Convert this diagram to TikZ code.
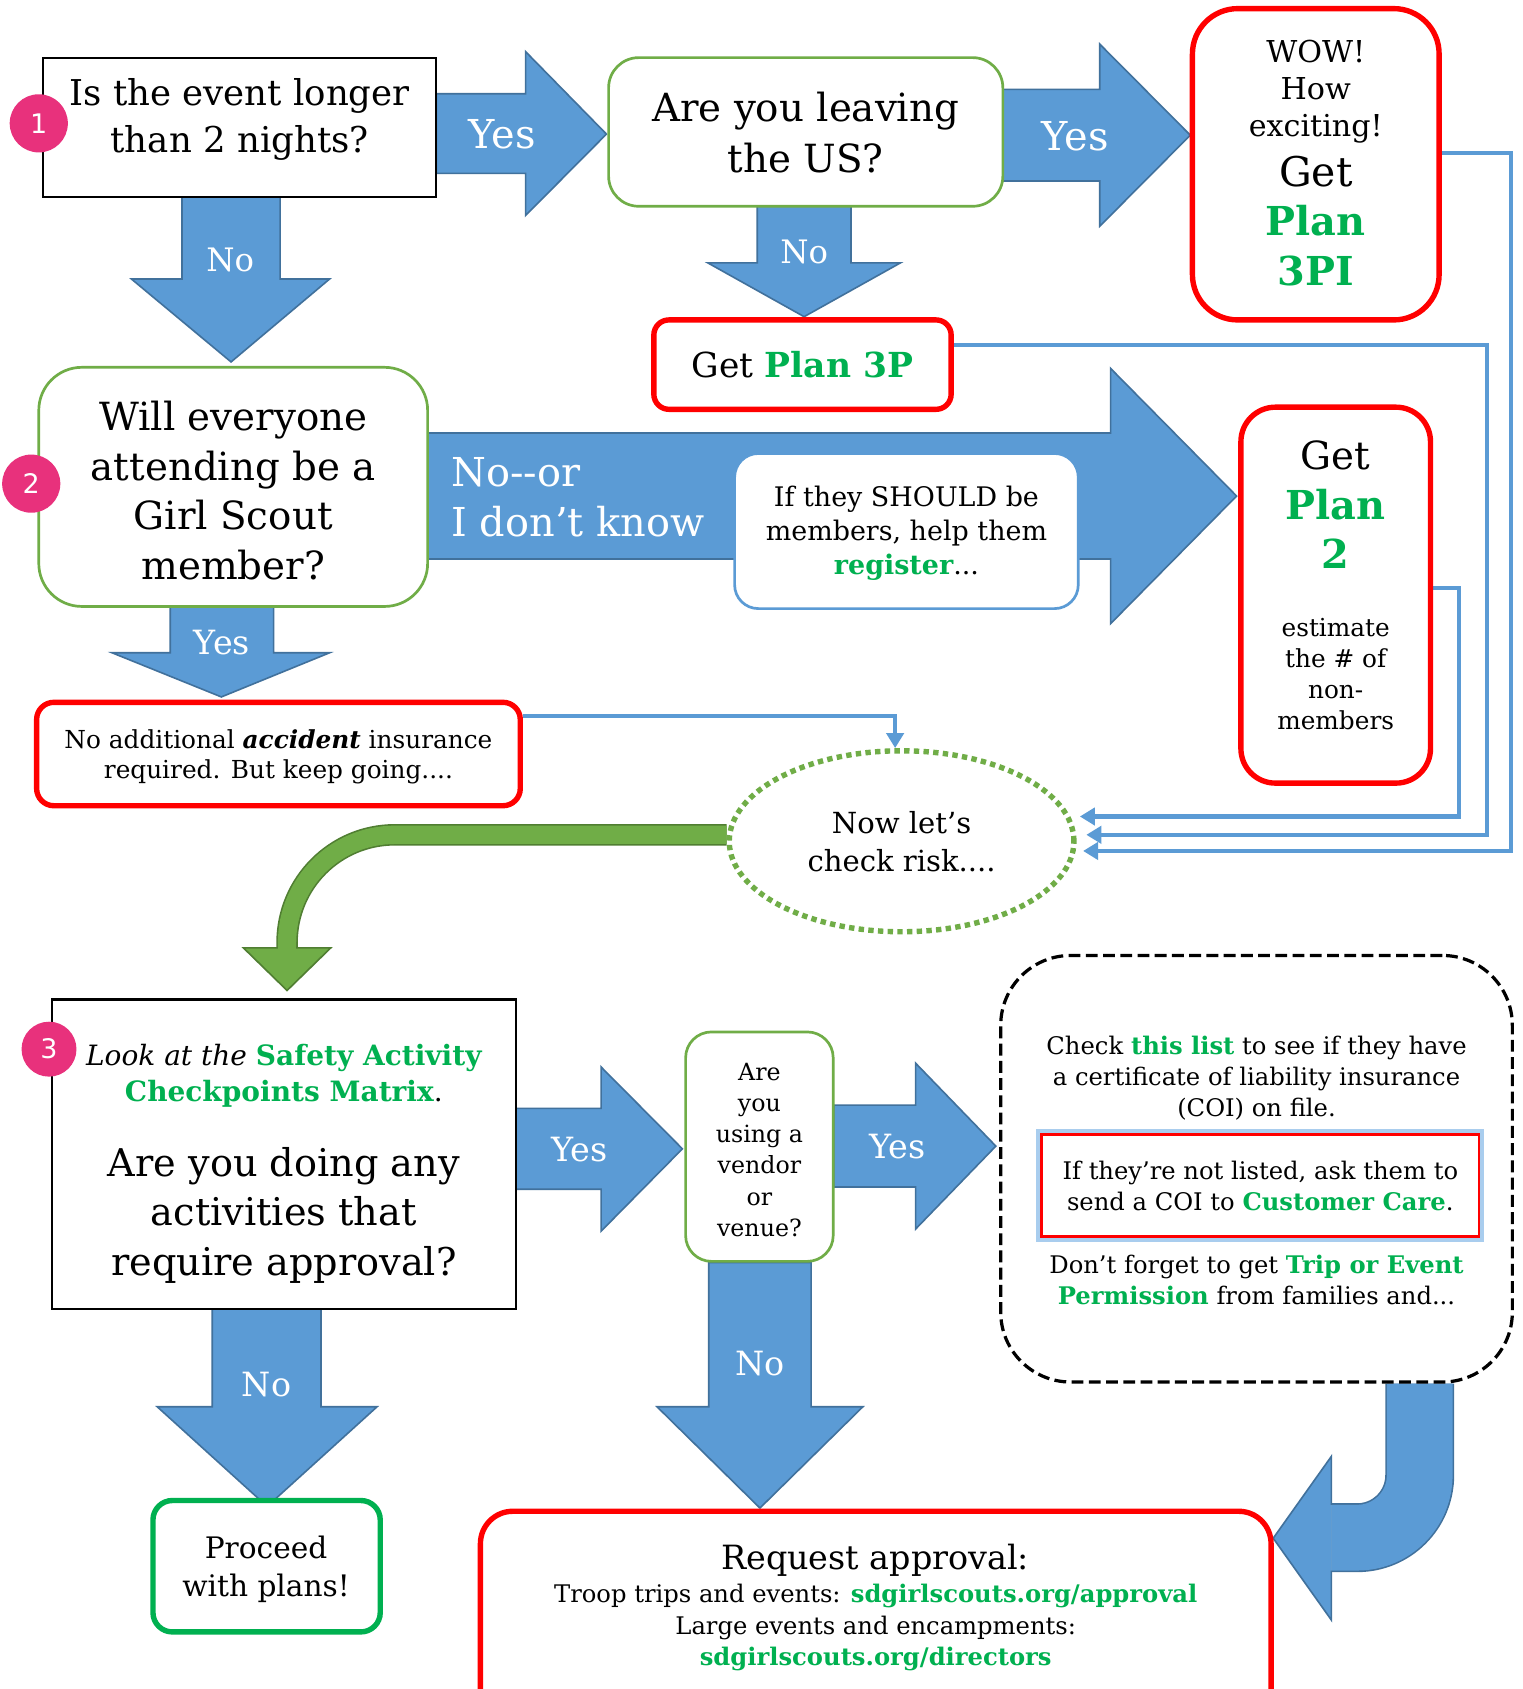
\documentclass[tikz,border=0pt]{standalone}
\usepackage{fontspec}
\setmainfont{DejaVu Serif}
\newfontfamily\numfont{DejaVu Sans}
\usetikzlibrary{arrows.meta,shapes.geometric,backgrounds}
\definecolor{ablue}{HTML}{5B9BD5}
\definecolor{aedge}{HTML}{41719C}
\definecolor{bred}{HTML}{FF0000}
\definecolor{bgreen}{HTML}{70AD47}
\definecolor{gedge}{HTML}{507E32}
\definecolor{tgreen}{HTML}{00B050}
\definecolor{npink}{HTML}{E8317C}
\definecolor{glowblue}{HTML}{A9CDEE}
\newcommand\fsz[2]{\fontsize{#1}{#2}\selectfont}
\newcommand\gb[1]{\textbf{\textcolor{tgreen}{#1}}}
\tikzset{
  blk/.style={fill=ablue, draw=aedge, line width=1.5pt, line join=miter},
  lbl/.style={text=white, inner sep=0pt, anchor=base},
  txt/.style={align=center, inner sep=0pt, anchor=north},
  one/.style={inner sep=0pt, anchor=base},
  shp/.style={rectangle, inner sep=0pt},
  redbox/.style={shp, draw=bred, line width=5pt, fill=white, rounded corners=#1},
  grnbox/.style={shp, draw=bgreen, line width=2.5pt, fill=white, rounded corners=#1},
  blkbox/.style={shp, draw=black, line width=2.2pt, fill=white},
  conn/.style={draw=ablue, line width=4pt, -{Triangle[length=14pt,width=16pt]}},
  numc/.style={circle, fill=npink, text=white, inner sep=0pt, minimum size=#1, font=\numfont\fsz{25}{25}},
}
\begin{document}
\begin{tikzpicture}[x=1pt,y=-1pt]
\useasboundingbox (0,0) rectangle (1413,1568);
\clip (0,0) rectangle (1413,1568);

% ---------- boxes ----------
\node[blkbox, minimum width=365pt, minimum height=129pt] (q1) at (222.5,118.5) {};
\node[grnbox=28pt, minimum width=366pt, minimum height=138pt] (q2) at (748,122.5) {};
\node[redbox=42pt, minimum width=229pt, minimum height=289pt] (wow) at (1221.5,152.5) {};
\node[redbox=14pt, minimum width=276pt, minimum height=83pt] (p3p) at (745,338.5) {};
\node[grnbox=40pt, minimum width=361pt, minimum height=222pt] (q3) at (216.5,452) {};
\node[shp, draw=ablue, line width=2.5pt, fill=white, rounded corners=22pt, minimum width=319pt, minimum height=144pt] (reg) at (841.5,493) {};
\node[redbox=32pt, minimum width=176pt, minimum height=349pt] (p2) at (1240,552.5) {};
\node[redbox=16pt, minimum width=449pt, minimum height=96pt] (noadd) at (258.5,700) {};
\node[ellipse, draw=bgreen, line width=5pt, dash pattern=on 5pt off 4pt, fill=white, minimum width=320pt, minimum height=168pt, inner sep=0pt] (risk) at (837,781) {};
\node[blkbox, minimum width=431pt, minimum height=287pt] (q4) at (263.5,1071.5) {};
\node[grnbox=24pt, minimum width=137pt, minimum height=213pt] (vend) at (705,1064.5) {};
\node[shp, draw=black, line width=3pt, dash pattern=on 11pt off 5pt, rounded corners=65pt, fill=white, minimum width=475pt, minimum height=396pt] (coi) at (1166.5,1085) {};
\node[shp, draw=bred, line width=2.5pt, fill=white, preaction={draw=glowblue, line width=10pt}, minimum width=406pt, minimum height=95pt] (nl) at (1170,1100.5) {};
\node[shp, draw=tgreen, line width=5pt, fill=white, rounded corners=18pt, minimum width=211pt, minimum height=122pt] (proc) at (247.5,1454) {};
\node[redbox=30pt, minimum width=734pt, minimum height=217pt] (req) at (813,1511.5) {};

% ---------- number badges ----------
\node[numc=54pt] (num1) at (36,114.5) {1};
\node[numc=54pt] (num2) at (29,449) {2};
\node[numc=51pt] (num3) at (45.5,974) {3};

% ---------- arrows (behind) ----------
\begin{scope}[on background layer]
\fill[white] (0,0) rectangle (1413,1568);
% block arrows
\draw[blk] (405,87) -- (488,87) -- (488,48) -- (563,124.5) -- (488,200) -- (488,161) -- (405,161) -- cycle;
\draw[blk] (931,83) -- (1021,83) -- (1021,41) -- (1105,125.5) -- (1021,210) -- (1021,168) -- (931,168) -- cycle;
\draw[blk] (169,183) -- (260,183) -- (260,259) -- (306,259) -- (214.5,336) -- (122,259) -- (169,259) -- cycle;
\draw[blk] (703,191) -- (790,191) -- (790,244) -- (836,244) -- (746.5,294) -- (657,244) -- (703,244) -- cycle;
\draw[blk] (397,402) -- (1031,402) -- (1031,342) -- (1148,460.5) -- (1031,579) -- (1031,519) -- (397,519) -- cycle;
\draw[blk] (158,563) -- (254,563) -- (254,606) -- (306,606) -- (205.5,647) -- (104,606) -- (158,606) -- cycle;
\draw[blk] (479,1029) -- (558,1029) -- (558,990.5) -- (633.5,1066.5) -- (558,1143) -- (558,1104) -- (479,1104) -- cycle;
\draw[blk] (774,1026) -- (850,1026) -- (850,987) -- (924.5,1064) -- (850,1141) -- (850,1102) -- (774,1102) -- cycle;
\draw[blk] (197,1215) -- (298,1215) -- (298,1306) -- (350,1306) -- (248,1398.5) -- (146,1306) -- (197,1306) -- cycle;
\draw[blk] (658,1172) -- (753,1172) -- (753,1306) -- (801,1306) -- (705.5,1400) -- (610,1306) -- (658,1306) -- cycle;
% green curved arrow from risk ellipse to question 3
\draw[line width=20pt, gedge, rounded corners=100pt] ([yshift=6pt]risk.west) -- (266.5,775) -- (266.5,881);
\draw[line width=17pt, bgreen, rounded corners=100pt] ([yshift=6pt]risk.west) -- (266.5,775) -- (266.5,881);
\filldraw[fill=bgreen, draw=gedge, line width=1.5pt, line join=miter] (258,880) -- (226,880) -- (266.5,919.5) -- (307,880) -- (275,880);
% U-turn arrow from COI box to request box
\draw[line width=64pt, aedge, rounded corners=58pt] ([xshift=151.5pt]coi.south) -- (1318,1427.5) -- (1236,1427.5);
\draw[line width=61pt, ablue, rounded corners=58pt] ([xshift=151.5pt]coi.south) -- (1318,1427.5) -- (1236,1427.5);
\filldraw[fill=ablue, draw=aedge, line width=1.5pt, line join=miter] (1236,1397) -- (1236,1352) -- (1182,1428) -- (1236,1504) -- (1236,1458);
% thin connectors
\draw[conn] ([yshift=35pt]noadd.east) -| ([xshift=-6pt]risk.north);
\draw[conn] ([yshift=6.5pt]p2.east) -- ++(24,0) |- ([xshift=3pt,yshift=23pt]risk.east);
\draw[conn] ([yshift=18.5pt]p3p.east) -- ++(495,0) |- ([xshift=9pt,yshift=6pt]risk.east);
\draw[conn] ([yshift=10.5pt]wow.east) -- ++(64,0) |- ([xshift=6pt,yshift=-9pt]risk.east);
\end{scope}

% ---------- arrow labels ----------
\node[lbl, font=\fsz{37}{40}] (y1) at (466.4,137.7) {Yes};
\node[lbl, font=\fsz{37}{40}] (y2) at (998.3,139.3) {Yes};
\node[lbl, font=\fsz{30}{32}] (n1l) at (213.8,252.2) {No};
\node[lbl, font=\fsz{30}{32}] (n2l) at (746.6,244.5) {No};
\node[lbl, font=\fsz{31}{33}] (y3) at (206,608) {Yes};
\node[lbl, font=\fsz{31}{33}] (y4) at (538,1078.4) {Yes};
\node[lbl, font=\fsz{31}{33}] (y5) at (833,1075.3) {Yes};
\node[lbl, font=\fsz{31}{33}] (n3l) at (247.5,1296.6) {No};
\node[lbl, font=\fsz{31}{33}] (n4l) at (705.6,1276.5) {No};
\node[inner sep=0pt, anchor=north west, align=left, text=white, font=\fsz{37}{46.4}] (nolbl) at (419,418.7) {\strut No\mbox{-}\mbox{-}or\\I don’t know\strut};

% ---------- texts ----------
\node[txt, font=\fsz{33}{43.3}] (q1t) at (222.5,67.7) {\strut Is the event longer\\than 2 nights?\strut};
\node[txt, font=\fsz{36}{47.5}] (q2t) at (748,79.3) {\strut Are you leaving\\the US?\strut};
\node[txt, font=\fsz{28}{34.4}] (wowt) at (1221.5,34.1) {\strut WOW!\\How\\exciting!\strut};
\node[one, font=\fsz{38}{40}] (wowg) at (1221.5,173.3) {Get};
\node[txt, font=\fsz{37}{46.4}\bfseries, text=tgreen] (wowp) at (1221.5,185.7) {\strut Plan\\3PI\strut};
\node[one, font=\fsz{32}{34}] (p3pt) at (745,350) {Get \gb{Plan 3P}};
\node[txt, font=\fsz{36}{46.2}] (q3t) at (216.5,366.9) {\strut Will everyone\\attending be a\\Girl Scout\\member?\strut};
\node[txt, font=\fsz{25}{31.7}] (regt) at (841.5,447.9) {\strut If they SHOULD be\\members, help them\\\gb{register}...\strut};
\node[one, font=\fsz{36}{40}] (p2g) at (1240,435.6) {Get};
\node[txt, font=\fsz{37}{45.5}\bfseries, text=tgreen] (p2p) at (1240,450) {\strut Plan\\2\strut};
\node[txt, font=\fsz{23}{29}] (p2e) at (1240,570) {\strut estimate\\the \# of\\non-\\members\strut};
\node[txt, font=\fsz{23}{28}] (noaddt) at (258.5,675.1) {\strut No additional \textbf{\textit{accident}} insurance\\required. But keep going....\strut};
\node[txt, font=\fsz{27}{35.5}] (riskt) at (837,748.6) {\strut Now let’s\\check risk....\strut};
\node[txt, font=\fsz{26}{34}] (q4a) at (263.5,964.9) {\strut\textit{Look at the} \gb{Safety Activity}\\\gb{Checkpoints Matrix}.\strut};
\node[txt, font=\fsz{35.5}{46}] (q4b) at (263.5,1059.5) {\strut Are you doing any\\activities that\\require approval?\strut};
\node[txt, font=\fsz{22}{29}] (vt) at (705,982.3) {\strut Are\\you\\using a\\vendor\\or\\venue?\strut};
\node[txt, font=\fsz{22.5}{28.9}] (c1) at (1166.5,958.6) {\strut Check \gb{this list} to see if they have\\a certificate of liability insurance\\(COI) on file.\strut};
\node[txt, font=\fsz{22.5}{29.1}] (c2) at (1170,1074.4) {\strut If they’re not listed, ask them to\\send a COI to \gb{Customer Care}.\strut};
\node[txt, font=\fsz{22.5}{28.5}] (c3) at (1166.5,1162.1) {\strut Don’t forget to get \gb{Trip or Event}\\\gb{Permission} from families and...\strut};
\node[txt, font=\fsz{27.5}{35}] (prt) at (247,1422.1) {\strut Proceed\\with plans!\strut};
\node[one, font=\fsz{31}{34}] (rqt) at (812.5,1456.8) {Request approval:};
\node[txt, font=\fsz{22.5}{29}] (rqb) at (813,1467.5) {\strut Troop trips and events: \gb{sdgirlscouts.org/approval}\\Large events and encampments:\\\gb{sdgirlscouts.org/directors}\strut};
\end{tikzpicture}
\end{document}
